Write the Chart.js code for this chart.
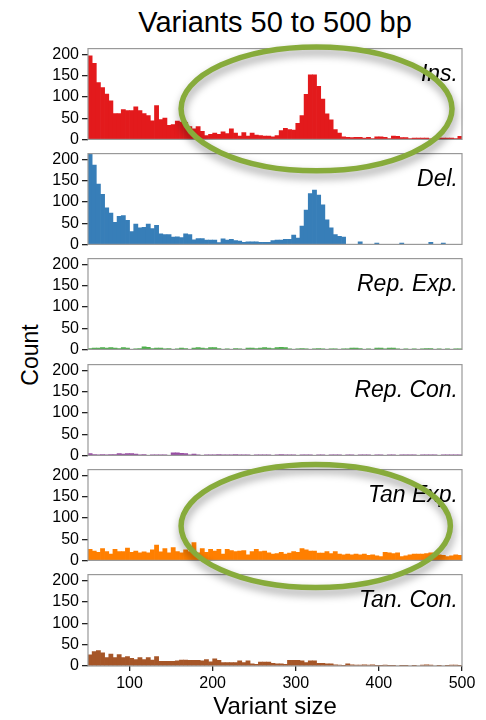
<!DOCTYPE html>
<html>
<head>
<meta charset="utf-8">
<script src="https://cdn.jsdelivr.net/npm/chart.js@4.4.1/dist/chart.umd.min.js"></script>
<style>
  html, body { margin: 0; padding: 0; background: #fff; overflow: hidden; }
  #wrap { position: relative; width: 486px; height: 720px; }
  #wrap canvas { position: absolute; left: 0; }
  #title { position: absolute; left: 75px; width: 400px; top: 8px; text-align: center;
           font-family: "Liberation Sans", Arial, sans-serif; font-size: 29px; line-height: 29px; color: #000; }
  #ylab { position: absolute; left: 30px; top: 355px; transform: translate(-50%, -50%) rotate(-90deg);
          font-family: "Liberation Sans", Arial, sans-serif; font-size: 23px; line-height: 23px; color: #000; white-space: nowrap; }
  #overlay { z-index: 10; }
</style>
</head>
<body>
<div id="wrap">
  <div id="title">Variants 50 to 500 bp</div>
  <div id="ylab">Count</div>
  <canvas id="p0" width="486" height="116"></canvas>
  <canvas id="p1" width="486" height="116"></canvas>
  <canvas id="p2" width="486" height="116"></canvas>
  <canvas id="p3" width="486" height="116"></canvas>
  <canvas id="p4" width="486" height="116"></canvas>
  <canvas id="p5" width="486" height="164"></canvas>
  <canvas id="overlay" width="486" height="720"></canvas>
</div>
<script>
// 5 bp bins from 50 to 500
var binMids = [];
for (var i = 0; i < 90; i++) binMids.push(52.5 + 5 * i);

var names = ['Ins.', 'Del.', 'Rep. Exp.', 'Rep. Con.', 'Tan Exp.', 'Tan. Con.'];

var ins = [197,179,134,122,107,91,61,61,70,68,
           68,77,68,61,56,44,80,47,50,33,
           35,43,41,40,30,25,30,19,9,12,
           15,12,18,14,25,15,8,16,8,15,
           10,9,8,8,6,9,21,26,23,22,
           38,56,106,152,152,125,95,60,46,23,
           15,6,5,4,5,5,3,5,2,6,
           6,5,2,8,7,4,4,2,3,3,
           3,3,1,2,3,3,3,3,2,7];

var del = [215,187,142,118,86,74,52,66,68,57,
           30,48,39,40,48,37,45,25,23,23,
           17,18,16,25,23,11,14,14,10,10,
           10,4,13,10,12,9,8,5,6,6,
           6,5,5,5,9,10,10,12,12,22,
           15,43,81,120,128,116,93,58,39,23,
           19,17,0,0,0,6,0,0,0,3,
           0,0,0,0,0,3,0,0,0,0,
           0,0,5,0,0,3,0,0,0,0];

var repExp = [2,3,3,4,3,4,3,2,4,3,
              0,1,2,6,5,2,3,3,1,2,
              0,1,3,2,0,3,4,3,2,4,
              4,2,0,1,0,2,1,0,3,3,
              2,3,4,3,2,4,5,4,1,0,
              1,2,1,0,1,2,1,0,1,1,
              0,1,1,3,3,2,0,1,0,3,
              3,1,3,3,1,0,1,0,1,0,
              1,2,2,0,1,0,1,0,1,1];

var repCon = [4,2,1,2,1,2,2,4,3,4,
              4,3,1,2,0,1,1,1,1,0,
              6,6,5,4,1,3,1,0,1,1,
              1,2,1,1,1,2,1,1,1,0,
              1,1,1,1,0,1,2,1,1,1,
              0,1,1,1,0,1,1,0,1,1,
              1,0,1,1,0,1,1,1,0,1,
              1,0,1,1,0,1,1,1,1,0,
              1,1,1,1,0,1,1,1,1,1];

var tanExp = [26,22,19,28,21,15,26,21,21,29,
              19,22,18,20,18,25,36,20,28,18,
              30,21,18,25,21,42,18,28,19,26,
              22,26,15,26,23,21,22,23,13,21,
              26,21,22,18,15,16,19,15,17,21,
              19,28,25,22,22,17,17,21,16,21,
              15,13,15,13,15,13,15,12,13,11,
              9,19,18,16,18,9,11,13,15,15,
              15,16,18,17,13,12,9,11,13,12];

var tanCon = [26,34,36,31,20,28,20,27,20,22,
              18,15,20,15,20,14,22,11,11,11,
              11,12,14,14,13,13,13,12,15,10,
              17,13,8,8,8,8,12,8,12,5,
              4,9,9,9,6,5,5,4,13,13,
              13,12,8,12,12,6,6,5,5,3,
              2,1,5,3,2,2,3,2,3,1,
              1,2,1,1,0,1,1,0,1,0,
              2,3,2,0,1,0,1,2,2,1];

var series = [ins, del, repExp, repCon, tanExp, tanCon];
var colors = ['#e31a1c', '#377eb8', '#4daf4a', '#984ea3', '#ff7f00', '#a65628'];

// highlighted regions (panel, centre in data units, radii in data units)
var rings = [
  { panel: 0, x: 325, y: 72, rx: 163, ry: 146 },
  { panel: 4, x: 324, y: 81, rx: 162, ry: 145 }
];

var panelTops = [48, 153, 258, 364, 469, 574];
var FONT = '"Liberation Sans", Arial, sans-serif';

var boxPlugin = {
  id: 'panelBox',
  afterDraw: function(chart, args, opts) {
    var a = chart.chartArea, ctx = chart.ctx;
    ctx.save();
    ctx.strokeStyle = '#999';
    ctx.lineWidth = 1.2;
    ctx.strokeRect(a.left, a.top, a.right - a.left, a.bottom - a.top);
    ctx.font = 'italic 23px ' + FONT;
    ctx.fillStyle = '#000';
    ctx.textAlign = 'right';
    ctx.textBaseline = 'alphabetic';
    ctx.fillText(opts.text, a.right - 4, a.top + 32);
    ctx.restore();
  }
};

function fixHeight(s) { s.height = 60; }

var charts = [];
for (var k = 0; k < 6; k++) {
  var last = (k === 5);
  var cv = document.getElementById('p' + k);
  cv.style.top = (panelTops[k] - 12) + 'px';
  var pts = series[k].map(function(v, i) { return { x: binMids[i], y: v }; });
  charts.push(new Chart(cv.getContext('2d'), {
    type: 'bar',
    data: {
      datasets: [{
        data: pts,
        backgroundColor: colors[k],
        borderWidth: 0,
        barPercentage: 1,
        categoryPercentage: 1
      }]
    },
    options: {
      responsive: false,
      animation: false,
      events: [],
      layout: { padding: { top: 12, bottom: last ? 0 : 12, left: 0, right: 24 } },
      plugins: {
        legend: { display: false },
        tooltip: { enabled: false },
        panelBox: { text: names[k] }
      },
      scales: {
        x: {
          type: 'linear', min: 50, max: 500, offset: false, display: last,
          ticks: { stepSize: 100, includeBounds: false, maxRotation: 0, padding: 3,
                   color: '#000', font: { family: FONT, size: 16 } },
          grid: { drawOnChartArea: false, offset: false, tickLength: 5, color: '#222', lineWidth: 1.3 },
          border: { display: false },
          title: { display: true, text: 'Variant size', color: '#000',
                   font: { family: FONT, size: 24 }, padding: { top: 4, bottom: 4 } },
          afterFit: last ? fixHeight : undefined
        },
        y: {
          min: 0, max: 214,
          ticks: { stepSize: 50, includeBounds: false, padding: 3,
                   color: '#000', font: { family: FONT, size: 16 } },
          grid: { drawOnChartArea: false, tickLength: 6, color: '#222', lineWidth: 1.3 },
          border: { display: false },
          afterFit: function(s) { s.width = 88; }
        }
      }
    },
    plugins: [boxPlugin]
  }));
}

// green ellipses drawn over the panels
var ov = document.getElementById('overlay');
ov.style.top = '0px';
var octx = ov.getContext('2d');
rings.forEach(function(r) {
  var ch = charts[r.panel];
  var sx = ch.scales.x, sy = ch.scales.y;
  var off = panelTops[r.panel] - 12;
  var cx = sx.getPixelForValue(r.x);
  var cy = off + sy.getPixelForValue(r.y);
  var rx = sx.getPixelForValue(r.x + r.rx) - cx;
  var ry = off + sy.getPixelForValue(r.y - r.ry) - cy;
  octx.save();
  octx.shadowColor = 'rgba(0,0,0,0.4)';
  octx.shadowBlur = 8;
  octx.shadowOffsetX = 1;
  octx.shadowOffsetY = 5;
  octx.strokeStyle = '#87ab3b';
  octx.lineWidth = 5.5;
  octx.beginPath();
  octx.ellipse(cx, cy, rx, ry, 0, 0, Math.PI * 2);
  octx.stroke();
  octx.restore();
});
</script>
</body>
</html>
